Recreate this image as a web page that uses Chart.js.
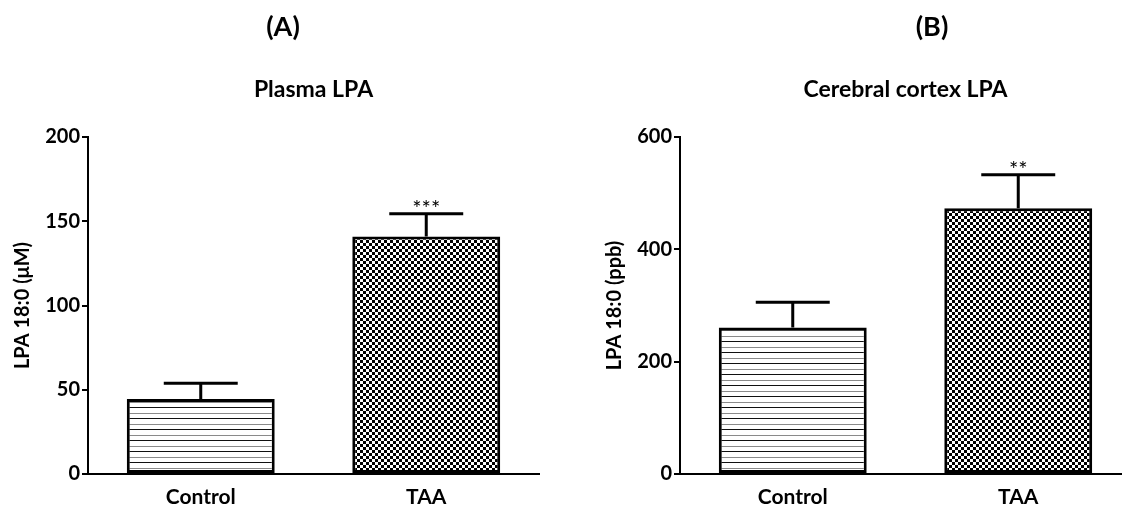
<!DOCTYPE html>
<html>
<head>
<meta charset="utf-8">
<script src="https://cdn.jsdelivr.net/npm/chart.js@4.4.1/dist/chart.umd.min.js"></script>
<style>
  html, body { margin: 0; padding: 0; background: #fff; }
  body { width: 1122px; height: 509px; overflow: hidden; position: relative; }
  .panel { position: absolute; top: 0; }
</style>
</head>
<body>
<div class="panel" style="left:0px"><canvas id="plasmaChart" width="560" height="509"></canvas></div>
<div class="panel" style="left:592px"><canvas id="cortexChart" width="560" height="509"></canvas></div>
<script>
const groups = ['Control', 'TAA'];

// Plasma LPA 18:0 (uM), mean and SEM
const plasmaMean = [44.5, 141];
const plasmaSem = [9.3, 13.5];
const plasmaStars = ['', '***'];
const plasmaMax = 200;
const plasmaStep = 50;

// Cerebral cortex LPA 18:0 (ppb), mean and SEM
const cortexMean = [261, 473];
const cortexSem = [45, 60];
const cortexStars = ['', '**'];
const cortexMax = 600;
const cortexStep = 200;

Chart.defaults.font.family = 'Lato, "Open Sans", sans-serif';
Chart.defaults.color = '#000';

// fill patterns: horizontal hatching for control, checkerboard for TAA
function hatchPattern() {
  const c = document.createElement('canvas');
  c.width = 4; c.height = 11;
  const g = c.getContext('2d');
  g.fillStyle = '#fff';
  g.fillRect(0, 0, 4, 11);
  g.fillStyle = '#111';
  g.fillRect(0, 0, 4, 1);
  g.fillStyle = '#8a8a8a';
  g.fillRect(0, 6, 4, 1);
  return g.createPattern(c, 'repeat');
}

function checkerPattern() {
  const c = document.createElement('canvas');
  c.width = 6; c.height = 6;
  const g = c.getContext('2d');
  g.fillStyle = '#fff';
  g.fillRect(0, 0, 6, 6);
  g.fillStyle = '#000';
  g.fillRect(0, 0, 3, 3);
  g.fillRect(3, 3, 3, 3);
  return g.createPattern(c, 'repeat');
}

// upper error bars + significance marks
const errorBars = {
  id: 'errorBars',
  afterDatasetsDraw(chart) {
    const ctx = chart.ctx;
    const ds = chart.data.datasets[0];
    const yScale = chart.scales.y;
    chart.getDatasetMeta(0).data.forEach((bar, i) => {
      const top = yScale.getPixelForValue(ds.data[i] + ds.sem[i]);
      const half = bar.width / 4;
      ctx.save();
      ctx.strokeStyle = '#000';
      ctx.lineWidth = 3;
      ctx.beginPath();
      ctx.moveTo(bar.x, bar.y);
      ctx.lineTo(bar.x, top);
      ctx.moveTo(bar.x - half, top);
      ctx.lineTo(bar.x + half, top);
      ctx.stroke();
      if (ds.stars[i]) {
        ctx.fillStyle = '#000';
        ctx.font = '22px Lato';
        ctx.textAlign = 'center';
        ctx.textBaseline = 'alphabetic';
        ctx.fillText(ds.stars[i], bar.x, top + 2);
      }
      ctx.restore();
    });
  }
};

// panel letter and chart heading
const headings = {
  id: 'headings',
  afterDraw(chart, args, opts) {
    const ctx = chart.ctx;
    const area = chart.chartArea;
    ctx.save();
    ctx.fillStyle = '#000';
    ctx.textAlign = 'center';
    ctx.textBaseline = 'middle';
    ctx.font = 'bold 27px Lato';
    ctx.fillText(opts.letter, opts.letterX, 27);
    ctx.font = 'bold 23px Lato';
    ctx.fillText(opts.title, (area.left + area.right) / 2, 90);
    ctx.restore();
  }
};

function makePanel(id, mean, sem, stars, yMax, yStep, yTitle, letter, letterX, title) {
  return new Chart(document.getElementById(id), {
    type: 'bar',
    data: {
      labels: groups,
      datasets: [{
        data: mean,
        sem: sem,
        stars: stars,
        backgroundColor: [hatchPattern(), checkerPattern()],
        borderColor: '#000',
        borderWidth: 3,
        borderSkipped: false,
        barPercentage: 0.656,
        categoryPercentage: 1
      }]
    },
    options: {
      responsive: false,
      animation: false,
      layout: { padding: { top: 137, right: 21, bottom: 0, left: 0 } },
      plugins: {
        legend: { display: false },
        tooltip: { enabled: false },
        headings: { letter: letter, letterX: letterX, title: title }
      },
      scales: {
        x: {
          grid: { display: false },
          border: { display: true, color: '#000', width: 2 },
          ticks: { font: { size: 21, weight: 'bold' }, padding: 3 },
          afterFit(scale) { scale.height = 35; }
        },
        y: {
          min: 0,
          max: yMax,
          ticks: { stepSize: yStep, font: { size: 20, weight: 'bold' }, padding: 2 },
          grid: { drawOnChartArea: false, drawTicks: true, tickLength: 6, color: '#000', lineWidth: 2 },
          border: { display: true, color: '#000', width: 2 },
          title: { display: true, text: yTitle, font: { size: 20, weight: 'bold' }, padding: { top: 11, bottom: 0 } },
          afterFit(scale) { scale.width = 88; }
        }
      }
    },
    plugins: [errorBars, headings]
  });
}

makePanel('plasmaChart', plasmaMean, plasmaSem, plasmaStars, plasmaMax, plasmaStep,
  'LPA 18:0 (μM)', '(A)', 283, 'Plasma LPA');
makePanel('cortexChart', cortexMean, cortexSem, cortexStars, cortexMax, cortexStep,
  'LPA 18:0 (ppb)', '(B)', 340, 'Cerebral cortex LPA');
</script>
</body>
</html>
